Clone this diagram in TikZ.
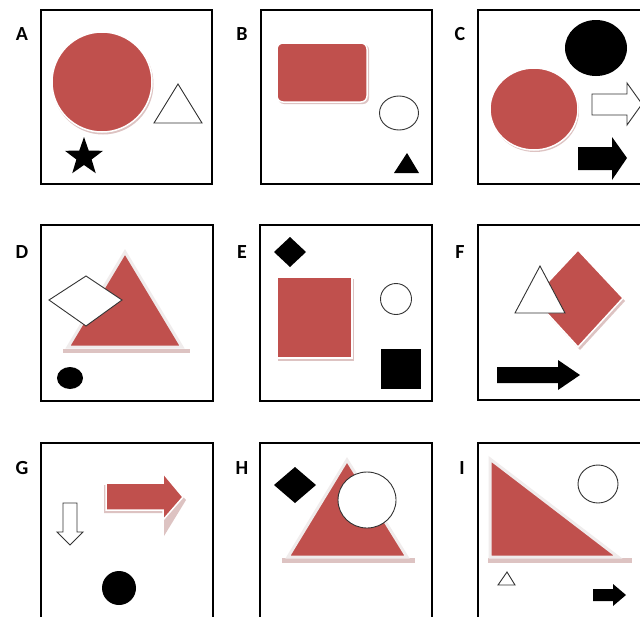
\documentclass[tikz,border=0pt]{standalone}
\usepackage{fontspec}
\setmainfont{Carlito}
\usetikzlibrary{shapes.geometric}
\definecolor{myred}{HTML}{C0504D}
\definecolor{shad}{HTML}{DDC3C2}
\definecolor{glow}{HTML}{F0ECEC}
\begin{document}
\begin{tikzpicture}[x=1pt,y=-1pt,
  panel/.style={draw=black,line width=2.6pt},
  lbl/.style={font=\bfseries\fontsize{20}{22}\selectfont, inner sep=0pt},
  redfill/.style={fill=myred,draw=white,line width=1.5pt},
  redtri/.style={fill=myred,draw=glow,line width=3pt,line join=miter},
  shadowfill/.style={fill=shad},
  outline/.style={draw=black!80,line width=0.9pt,fill=white},
  blk/.style={fill=black}]
\useasboundingbox (0,0) rectangle (640,616);
\fill[white] (0,0) rectangle (640,616);
\clip (0,0) rectangle (640,616);

% panels
\draw[panel] (41,10) rectangle (212,184);
\draw[panel] (261,10) rectangle (432,184);
\draw[panel] (478,10) rectangle (660,184);
\draw[panel] (41,225) rectangle (213,401);
\draw[panel] (260,225) rectangle (432,401);
\draw[panel] (478,225) rectangle (660,400);
\draw[panel] (41,443) rectangle (213,660);
\draw[panel] (260,443) rectangle (432,660);
\draw[panel] (478,443) rectangle (660,660);

% labels
\node[lbl] (la) at (22,34) {A};
\node[lbl] (lb) at (242,34) {B};
\node[lbl] (lc) at (460,34) {C};
\node[lbl] (ld) at (22,252) {D};
\node[lbl] (le) at (242,252) {E};
\node[lbl] (lf) at (460,252) {F};
\node[lbl] (lg) at (22,468) {G};
\node[lbl] (lh) at (242,468) {H};
\node[lbl] (li) at (462,468) {I};

% A
\fill[shadowfill] (103,84) circle (50.5pt);
\draw[redfill] (102,82) circle (50pt);
\draw[outline] (154,123) -- (202,123) -- (178,84) -- cycle;
\node[star, star points=5, star point ratio=2.5, blk, minimum size=40pt, inner sep=0pt] (astar) at (84,157) {};

% B
\fill[shadowfill, rounded corners=6pt] (278,44) rectangle (369,104);
\draw[redfill, rounded corners=6pt] (277,43) rectangle (367,102);
\draw[outline] (399,113) ellipse (19.5pt and 17pt);
\fill[blk] (394,173) -- (419,173) -- (407,153) -- cycle;

% C
\fill[blk] (596,48) ellipse (31pt and 28pt);
\fill[shadowfill] (535,111) ellipse (44pt and 41pt);
\draw[redfill] (534,109) ellipse (44pt and 41pt);
\draw[outline] (592,94) -- (627,94) -- (627,83) -- (642,104) -- (627,125) -- (627,115) -- (592,115) -- cycle;
\fill[blk] (578,147) -- (612,147) -- (612,137) -- (627,158) -- (612,180) -- (612,170) -- (578,170) -- cycle;

% D
\fill[shadowfill] (63,349) rectangle (190,353);
\draw[redtri] (68,347) -- (182,347) -- (125,252) -- cycle;
\draw[outline] (49,300) -- (86,276) -- (122,300) -- (86,326) -- cycle;
\fill[blk] (70,378) ellipse (13pt and 11pt);

% E
\fill[shadowfill] (278,279) rectangle (354,361);
\draw[redfill] (277,277) rectangle (352,358);
\fill[blk] (290,237) -- (306,252) -- (290,267) -- (274,252) -- cycle;
\draw[outline] (396,299) circle (15.5pt);
\fill[blk] (381,349) rectangle (421,389);

% F
\fill[shadowfill] (580,253) -- (625,301) -- (580,350) -- (535,301) -- cycle;
\draw[redfill] (578,250) -- (623,298) -- (578,347) -- (533,298) -- cycle;
\draw[outline] (515,313) -- (565,313) -- (540,266) -- cycle;
\fill[blk] (497,367) -- (558,367) -- (558,360) -- (580,375) -- (558,390) -- (558,383) -- (497,383) -- cycle;

% G
\draw[outline] (63,503) -- (77,503) -- (77,532) -- (83,532) -- (70,545) -- (57,532) -- (63,532) -- cycle;
\fill[shadowfill] (104,485) -- (164,485) -- (164,475) -- (186,500) -- (164,536) -- (164,513) -- (104,513) -- cycle;
\draw[redfill] (106,483) -- (163,483) -- (163,473) -- (183,497) -- (163,520) -- (163,510) -- (106,510) -- cycle;
\fill[blk] (119,588) circle (17pt);

% H
\fill[blk] (295,467) -- (316,485) -- (295,503) -- (274,485) -- cycle;
\fill[shadowfill] (282,558) rectangle (415,563);
\draw[redtri] (288,557) -- (407,557) -- (347,460) -- cycle;
\draw[outline] (367,500) ellipse (29pt and 28pt);

% I
\fill[shadowfill] (488,558) rectangle (632,563);
\draw[redtri] (490,459) -- (490,557) -- (618,557) -- cycle;
\draw[outline] (598,484) ellipse (20pt and 19pt);
\draw[outline] (498,585) -- (515,585) -- (507,572) -- cycle;
\fill[blk] (593,589) -- (613,589) -- (613,584) -- (626,595) -- (613,606) -- (613,601) -- (593,601) -- cycle;
\end{tikzpicture}
\end{document}
